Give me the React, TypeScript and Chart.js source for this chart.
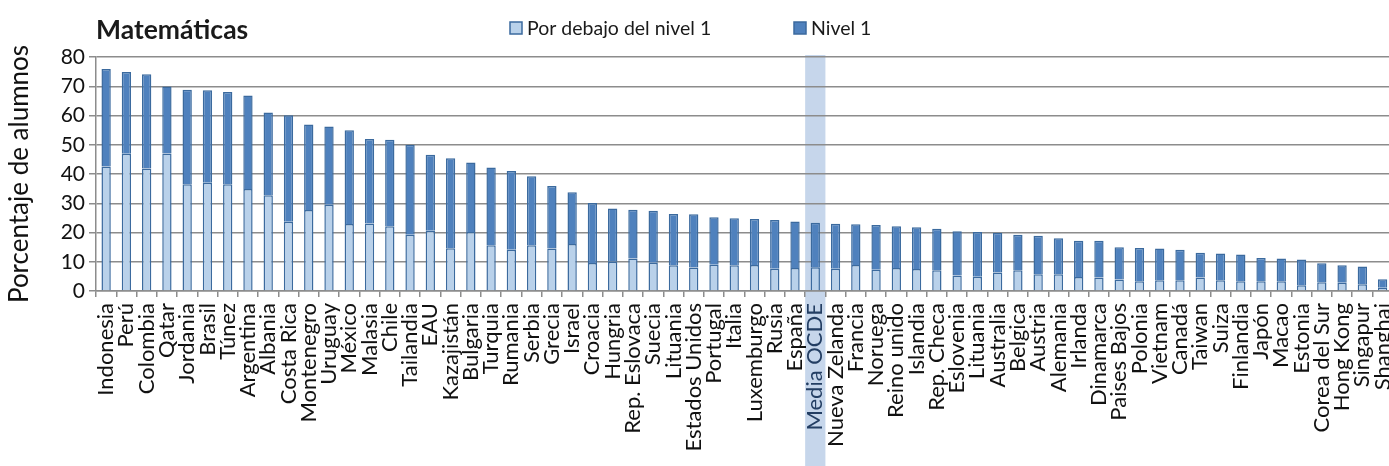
import React, { useEffect, useRef } from "react";
import { Chart, registerables } from "chart.js";

Chart.register(...registerables);

const countries: string[] = [
  "Indonesia", "Perú", "Colombia", "Qatar", "Jordania", "Brasil", "Túnez", "Argentina",
  "Albania", "Costa Rica", "Montenegro", "Uruguay", "México", "Malasia", "Chile", "Tailandia",
  "EAU", "Kazajistán", "Bulgaria", "Turquia", "Rumania", "Serbia", "Grecia", "Israel",
  "Croacia", "Hungria", "Rep. Eslovaca", "Suecia", "Lituania", "Estados Unidos", "Portugal", "Italia",
  "Luxemburgo", "Rusia", "España", "Media OCDE", "Nueva Zelanda", "Francia", "Noruega", "Reino unido",
  "Islandia", "Rep. Checa", "Eslovenia", "Lituania", "Australia", "Belgica", "Austria", "Alemania",
  "Irlanda", "Dinamarca", "Paises Bajos", "Polonia", "Vietnam", "Canadá", "Taiwan", "Suiza",
  "Finlandia", "Japón", "Macao", "Estonia", "Corea del Sur", "Hong Kong", "Singapur", "Shanghai",
];

// Percentage of students below level 1
const belowLevel1: number[] = [
  42.6, 46.9, 41.9, 47.0, 36.5, 37.0, 36.5, 34.9,
  32.7, 23.7, 27.7, 29.5, 22.9, 23.1, 22.1, 19.2,
  20.6, 14.6, 20.2, 15.6, 14.1, 15.6, 14.5, 16.1,
  9.6, 10.0, 11.1, 9.7, 8.8, 8.0, 9.0, 8.8,
  8.9, 7.6, 7.9, 8.1, 7.6, 8.9, 7.3, 7.9,
  7.5, 7.1, 5.3, 4.9, 6.3, 7.1, 5.7, 5.7,
  4.8, 4.6, 3.9, 3.3, 3.7, 3.7, 4.6, 3.7,
  3.3, 3.3, 3.3, 2.0, 3.0, 2.8, 2.3, 1.1,
];

// Percentage of students at level 1
const level1: number[] = [
  33.3, 28.0, 32.2, 22.9, 32.3, 31.6, 31.5, 31.9,
  28.3, 36.4, 29.2, 26.7, 32.1, 28.9, 29.6, 30.8,
  26.0, 30.8, 23.7, 26.6, 26.9, 23.6, 21.4, 17.7,
  20.5, 18.2, 16.7, 17.7, 17.5, 18.2, 16.2, 16.1,
  15.7, 16.7, 15.9, 15.2, 15.4, 13.9, 15.3, 14.2,
  14.3, 14.2, 15.1, 15.3, 13.6, 12.1, 13.2, 12.3,
  12.4, 12.6, 11.1, 11.4, 10.8, 10.4, 8.5, 9.1,
  9.2, 8.0, 7.8, 8.8, 6.5, 6.0, 6.1, 2.9,
];

const yTicks: number[] = [0, 10, 20, 30, 40, 50, 60, 70, 80];

const titleText = "Matemáticas";
const yAxisTitle = "Porcentaje de alumnos";
const seriesNames: string[] = ["Por debajo del nivel 1", "Nivel 1"];
const highlighted = "Media OCDE";

const FONT = "Lato, 'Open Sans', sans-serif";
const LIGHT = "#B9D1EA";
const DARK = "#4F81BD";
const BORDER = "#3B6A9E";
const GRID = "#8C8C8C";

const CANVAS_W = 1415;
const CANVAS_H = 466;

export default function App() {
  const ref = useRef<HTMLCanvasElement | null>(null);

  useEffect(() => {
    if (!ref.current) return;
    document.body.style.overflow = "hidden";

    const decor = {
      id: "decor",
      beforeDraw(chart: any) {
        const { ctx, chartArea, scales } = chart;
        const x = scales.x;
        const idx = countries.indexOf(highlighted);
        if (idx >= 0) {
          const cx = x.getPixelForValue(idx);
          const w = (chartArea.right - chartArea.left) / countries.length;
          ctx.save();
          ctx.fillStyle = "#C6D6EB";
          ctx.fillRect(cx - w / 2, chartArea.top - 2, w, chart.height - chartArea.top + 2);
          ctx.restore();
        }
      },
      afterDraw(chart: any) {
        const { ctx, chartArea } = chart;
        ctx.save();
        ctx.fillStyle = "#1a1a1a";
        ctx.font = `bold 26.5px ${FONT}`;
        ctx.textBaseline = "middle";
        ctx.textAlign = "left";
        ctx.fillText(titleText, chartArea.left, 30);
        // legend
        ctx.font = `19.5px ${FONT}`;
        const items = [
          { x: 510, color: LIGHT, text: seriesNames[0] },
          { x: 794, color: DARK, text: seriesNames[1] },
        ];
        for (const it of items) {
          ctx.fillStyle = it.color;
          ctx.fillRect(it.x, 22, 12, 12);
          ctx.strokeStyle = BORDER;
          ctx.lineWidth = 1.5;
          ctx.strokeRect(it.x, 22, 12, 12);
          ctx.fillStyle = "#1a1a1a";
          ctx.fillText(it.text, it.x + 17, 29);
        }
        ctx.restore();
      },
    };

    const chart = new Chart(ref.current, {
      type: "bar",
      data: {
        labels: countries,
        datasets: [
          {
            label: seriesNames[0],
            data: belowLevel1,
            backgroundColor: LIGHT,
            borderColor: BORDER,
            borderWidth: 1.5,
            categoryPercentage: 1,
            barPercentage: 0.46,
          },
          {
            label: seriesNames[1],
            data: level1,
            backgroundColor: DARK,
            borderColor: BORDER,
            borderWidth: 1.5,
            categoryPercentage: 1,
            barPercentage: 0.46,
          },
        ],
      },
      options: {
        animation: false,
        responsive: false,
        maintainAspectRatio: false,
        layout: { padding: { top: 57, right: 0, bottom: 0, left: 0 } },
        plugins: {
          legend: { display: false },
          title: { display: false },
          tooltip: { enabled: false },
        },
        scales: {
          x: {
            stacked: true,
            offset: true,
            grid: {
              offset: true,
              drawOnChartArea: false,
              drawTicks: true,
              tickLength: 6,
              color: GRID,
              lineWidth: 1.5,
            },
            border: { color: GRID, width: 1.5 },
            ticks: {
              autoSkip: false,
              minRotation: 90,
              maxRotation: 90,
              padding: 6,
              color: (c: any) => (countries[c.index] === highlighted ? "#233E63" : "#111111"),
              font: { family: FONT, size: 22 },
            },
            afterFit(scale: any) {
              scale.height = 175;
            },
          },
          y: {
            stacked: true,
            min: 0,
            max: 80,
            afterBuildTicks(scale: any) {
              scale.ticks = yTicks.map((v) => ({ value: v }));
            },
            grid: { color: GRID, lineWidth: 1.5, tickLength: 7 },
            border: { color: GRID, width: 1.5 },
            ticks: {
              padding: 4,
              color: "#111111",
              font: { family: FONT, size: 21 },
            },
            title: {
              display: true,
              text: yAxisTitle,
              color: "#111111",
              font: { family: FONT, size: 26 },
              padding: { top: 4, bottom: 4 },
            },
            afterFit(scale: any) {
              scale.width = 96;
            },
          },
        },
      },
      plugins: [decor],
    });

    return () => chart.destroy();
  }, []);

  return (
    <div
      style={{
        position: "fixed",
        left: 0,
        top: 0,
        width: 1389,
        height: CANVAS_H,
        overflow: "hidden",
        background: "#fff",
      }}
    >
      <canvas ref={ref} width={CANVAS_W} height={CANVAS_H} style={{ display: "block" }} />
    </div>
  );
}
